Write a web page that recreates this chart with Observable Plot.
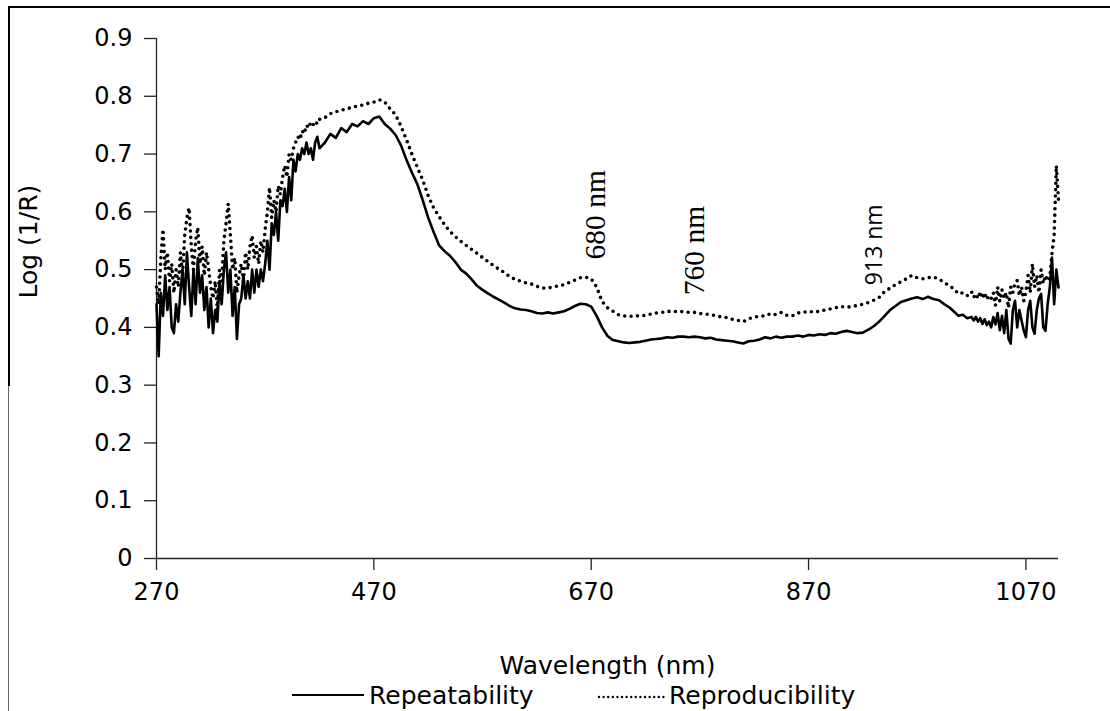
<!DOCTYPE html>
<html>
<head>
<meta charset="utf-8">
<script src="https://cdn.jsdelivr.net/npm/d3@7"></script>
<script src="https://cdn.jsdelivr.net/npm/@observablehq/plot@0.6"></script>
<style>
  body { margin: 0; background: #fff; }
  #wrap { position: relative; width: 1110px; height: 711px; overflow: hidden; background: #fff; }
  #chart { position: absolute; left: 0; top: 0; }
  .bt { position: absolute; left: 8px; top: 6px; width: 1102px; height: 2px; background: #000; }
  .bl1 { position: absolute; left: 8px; top: 6px; width: 2px; height: 380px; background: #000; }
  .bl2 { position: absolute; left: 8px; top: 386px; width: 1px; height: 325px; background: #666; }
  .leg { position: absolute; top: 684px; font-family: "DejaVu Sans", sans-serif; font-size: 25px; color: #000; line-height: 24px; height: 24px; white-space: nowrap; }
  .sw { position: absolute; top: 684px; height: 24px; }
  .sans-note text { font-family: "Open Sans", "Liberation Sans", sans-serif; }
</style>
</head>
<body>
<div id="wrap">
  <div class="bt"></div><div class="bl1"></div><div class="bl2"></div>
  <div id="chart"></div>
  <svg class="sw" style="left:290px" width="76" height="24"><line x1="2" y1="11" x2="74" y2="11" stroke="#000" stroke-width="2.2"/></svg>
  <div class="leg" style="left:369px">Repeatability</div>
  <svg class="sw" style="left:596px" width="74" height="24"><line x1="3" y1="13" x2="70" y2="13" stroke="#000" stroke-width="2.4" stroke-dasharray="0 4.6" stroke-linecap="round"/></svg>
  <div class="leg" style="left:669px">Reproducibility</div>
</div>
<script>
// Wavelength sampling grid (nm)
const wl = [].concat(
  d3.range(270, 421, 2),
  d3.range(425, 1001, 5),
  d3.range(1004, 1021, 4),
  d3.range(1022, 1101, 2)
);

// Repeatability (solid line), Log(1/R)
const repeatability = [
  // 270-420 step 2
  0.44,0.35,0.46,0.42,0.49,0.43,0.47,0.40,0.39,0.44,
  0.41,0.46,0.50,0.44,0.53,0.47,0.42,0.50,0.44,0.52,
  0.46,0.49,0.43,0.47,0.40,0.45,0.39,0.43,0.41,0.48,
  0.44,0.50,0.53,0.46,0.50,0.42,0.47,0.38,0.44,0.45,
  0.49,0.45,0.48,0.45,0.50,0.46,0.50,0.47,0.50,0.48,
  0.51,0.55,0.50,0.58,0.56,0.60,0.55,0.62,0.61,0.64,
  0.60,0.66,0.62,0.69,0.67,0.70,0.69,0.71,0.70,0.72,
  0.70,0.71,0.69,0.72,0.73,0.71,
  // 425-1000 step 5
  0.72,0.735,0.728,0.745,0.738,0.752,0.748,0.757,0.752,0.762,
  0.765,0.752,0.744,0.733,0.715,0.69,0.668,0.648,0.62,0.59,
  0.565,0.542,0.532,0.524,0.513,0.50,0.493,0.483,0.472,0.465,
  0.459,0.453,0.448,0.443,0.437,0.433,0.431,0.43,0.428,0.425,
  0.424,0.426,0.424,0.426,0.428,0.432,0.437,0.441,0.44,0.436,
  0.42,0.40,0.385,0.378,0.376,0.374,0.373,0.374,0.375,0.377,
  0.379,0.38,0.381,0.383,0.382,0.384,0.384,0.383,0.384,0.383,
  0.381,0.382,0.379,0.378,0.377,0.376,0.374,0.372,0.376,0.377,
  0.379,0.383,0.381,0.384,0.382,0.384,0.384,0.386,0.384,0.387,
  0.386,0.388,0.387,0.39,0.389,0.392,0.394,0.392,0.39,0.391,
  0.396,0.402,0.41,0.42,0.43,0.437,0.444,0.447,0.45,0.452,
  0.449,0.453,0.449,0.447,0.44,0.434,
  // 1004-1020 step 4
  0.427,0.42,0.422,0.416,0.418,
  // 1022-1100 step 2
  0.412,0.418,0.41,0.416,0.406,0.414,0.404,0.41,0.40,0.418,
  0.405,0.425,0.395,0.42,0.39,0.43,0.38,0.372,0.43,0.446,
  0.40,0.43,0.412,0.395,0.383,0.43,0.446,0.40,0.389,0.43,
  0.45,0.458,0.40,0.394,0.44,0.469,0.521,0.44,0.50,0.469
];

// Reproducibility (dotted line), Log(1/R)
const reproducibility = [
  // 270-420 step 2
  0.47,0.44,0.52,0.57,0.50,0.53,0.48,0.51,0.46,0.50,
  0.47,0.53,0.49,0.56,0.59,0.607,0.54,0.50,0.55,0.573,
  0.51,0.54,0.49,0.53,0.50,0.47,0.45,0.48,0.43,0.50,
  0.48,0.55,0.58,0.614,0.56,0.50,0.52,0.46,0.49,0.51,
  0.48,0.53,0.50,0.54,0.559,0.52,0.54,0.51,0.55,0.53,
  0.57,0.60,0.642,0.59,0.62,0.60,0.645,0.63,0.66,0.68,
  0.66,0.70,0.69,0.71,0.72,0.73,0.725,0.74,0.735,0.75,
  0.745,0.755,0.75,0.757,0.752,0.76,
  // 425-1000 step 5
  0.763,0.77,0.773,0.776,0.778,0.781,0.783,0.785,0.788,0.79,
  0.794,0.79,0.778,0.768,0.748,0.725,0.70,0.677,0.655,0.628,
  0.607,0.592,0.578,0.566,0.557,0.549,0.542,0.535,0.528,0.521,
  0.514,0.507,0.501,0.495,0.488,0.483,0.48,0.477,0.475,0.471,
  0.468,0.468,0.47,0.472,0.474,0.478,0.482,0.486,0.487,0.484,
  0.47,0.445,0.434,0.428,0.422,0.42,0.419,0.42,0.42,0.421,
  0.423,0.425,0.426,0.428,0.427,0.428,0.427,0.426,0.426,0.424,
  0.423,0.422,0.42,0.418,0.417,0.414,0.412,0.41,0.415,0.418,
  0.419,0.42,0.424,0.422,0.426,0.421,0.42,0.425,0.426,0.428,
  0.426,0.428,0.43,0.432,0.434,0.436,0.435,0.436,0.438,0.44,
  0.443,0.447,0.452,0.462,0.468,0.474,0.479,0.484,0.49,0.486,
  0.484,0.486,0.487,0.484,0.477,0.472,
  // 1004-1020 step 4
  0.466,0.458,0.46,0.455,0.462,
  // 1022-1100 step 2
  0.452,0.458,0.45,0.462,0.45,0.46,0.448,0.455,0.45,0.46,
  0.438,0.47,0.445,0.465,0.45,0.46,0.434,0.47,0.46,0.478,
  0.481,0.455,0.47,0.446,0.462,0.49,0.46,0.51,0.47,0.49,
  0.46,0.50,0.476,0.49,0.48,0.486,0.528,0.56,0.68,0.62
];

// Axis ticks
const xTicks = [270, 470, 670, 870, 1070];
const yTicks = [0, 0.1, 0.2, 0.3, 0.4, 0.5, 0.6, 0.7, 0.8, 0.9];

// Annotations
const serifNotes = ["680 nm", "760 nm"];
const serifNoteX = [674, 765];
const serifNoteY = [0.595, 0.533];
const sansNotes = ["913 nm"];
const sansNoteX = [931];
const sansNoteY = [0.543];

const data = wl.map((w, i) => ({wl: w, rep: repeatability[i], repro: reproducibility[i]}));
const serifData = serifNotes.map((t, i) => ({t, x: serifNoteX[i], y: serifNoteY[i]}));
const sansData = sansNotes.map((t, i) => ({t, x: sansNoteX[i], y: sansNoteY[i]}));

const font = "DejaVu Sans, sans-serif";

const chart = Plot.plot({
  width: 1110,
  height: 684,
  marginLeft: 156,
  marginRight: 52,
  marginTop: 38,
  marginBottom: 126,
  style: {fontFamily: font, fontSize: "24px", color: "#000", background: "transparent", overflow: "visible"},
  x: {domain: [270, 1100]},
  y: {domain: [0, 0.9]},
  marks: [
    Plot.ruleX([270], {stroke: "#222", strokeWidth: 1.3}),
    Plot.ruleY([0], {stroke: "#222", strokeWidth: 1.3}),
    Plot.axisY({ticks: yTicks, tickSize: 12, tickPadding: 12, label: null, fontSize: 24,
      stroke: "#222", strokeWidth: 1.3, tickFormat: d => d === 0 ? "0" : d.toFixed(1)}),
    Plot.axisX({ticks: xTicks, tickSize: 12, tickPadding: 12, label: null, fontSize: 24,
      stroke: "#222", strokeWidth: 1.3, tickFormat: d => String(d)}),
    Plot.line(data, {x: "wl", y: "rep", stroke: "#000", strokeWidth: 2.6, strokeLinejoin: "round"}),
    Plot.line(data, {x: "wl", y: "repro", stroke: "#000", strokeWidth: 3.6,
      strokeDasharray: "0 6.4", strokeLinecap: "round"}),
    Plot.text(serifData, {x: "x", y: "y", text: "t", rotate: -90, fontSize: 29.5,
      fontFamily: "Liberation Serif, serif", fill: "#000"}),
    Plot.text(sansData, {x: "x", y: "y", text: "t", rotate: -90, fontSize: 23,
      className: "sans-note", fill: "#000"}),
    Plot.text(["Wavelength (nm)"], {frameAnchor: "bottom", dy: 115, fontSize: 25, fill: "#000"}),
    Plot.text(["Log (1/R)"], {frameAnchor: "left", dx: -128, rotate: -90, fontSize: 25, fill: "#000"})
  ]
});
document.getElementById("chart").appendChild(chart);
</script>
</body>
</html>
